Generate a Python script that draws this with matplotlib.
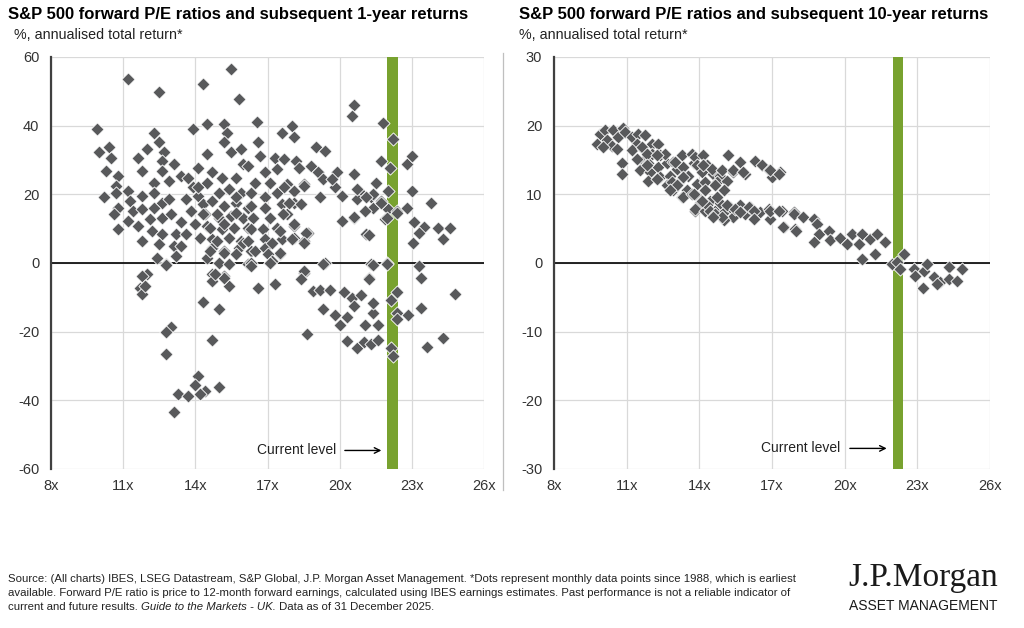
import matplotlib
matplotlib.use("Agg")
import matplotlib.pyplot as plt
from matplotlib.lines import Line2D

plt.rcParams['font.family'] = ['Liberation Sans', 'DejaVu Sans']
plt.rcParams['axes.unicode_minus'] = False

# forward P/E vs subsequent 1-year return (% p.a.)
pe_1y = [11.2, 12.5, 14.3, 15.5, 15.8, 20.6,
         9.9, 10.0, 10.4, 10.5, 10.3, 10.8, 10.7, 10.2, 10.7, 11.2, 10.8, 11.3, 10.6, 11.4, 10.8, 11.2,
         11.6, 12.0, 12.3, 12.5, 12.7, 12.6, 13.1, 11.8, 12.6, 12.3, 12.9, 13.4, 11.8, 12.3, 12.6, 12.9,
         11.8, 12.3, 12.1, 12.6, 13.0, 11.6, 12.2, 12.6, 13.2, 11.8, 12.5, 13.1, 12.4, 12.8, 13.2, 12.0,
         13.9, 14.5, 15.2, 15.3, 15.2, 14.5, 15.5, 15.9, 16.0, 14.1, 14.7, 15.1, 15.7, 13.7, 13.9, 14.5,
         15.0, 15.4, 15.9, 13.6, 14.1, 14.3, 14.7, 15.2, 15.7, 16.2, 13.8, 14.4, 15.0, 15.5, 16.0, 13.4,
         14.0, 14.5, 15.1, 15.6, 16.2, 13.6, 14.2, 14.7, 15.4, 15.9, 14.7, 15.2, 15.8, 16.3, 14.5, 15.0,
         15.4, 16.2, 14.7, 15.2,
         13.4, 14.1, 15.7, 15.2, 15.7, 14.9, 14.6, 16.0, 14.9, 15.2, 15.7, 14.3, 14.6, 13.8,
         16.55, 17.6, 18.0, 18.1, 20.5, 21.8, 22.2, 16.6, 19.0, 19.4, 16.7, 17.3, 17.7, 18.2, 18.3, 21.7,
         22.1, 22.8, 23.0, 16.2, 16.9, 17.4, 18.8, 19.1, 19.9, 20.6, 16.5, 17.1, 17.8, 18.5, 19.3, 19.8,
         20.8, 21.5, 22.0, 23.0, 16.3, 16.9, 17.4, 18.1, 19.2, 20.1, 20.7, 21.3, 21.7, 16.3, 16.9, 17.6,
         18.1, 21.4, 22.0, 22.4, 22.8, 16.4, 17.1, 17.8, 20.1, 20.6, 21.9, 16.3, 16.8, 17.4, 18.1, 18.7,
         21.1, 16.2, 16.9, 17.6, 18.1, 18.5, 16.5, 16.9, 17.5, 16.3, 17.1, 19.4, 21.3, 21.95, 18.5, 21.2,
         19.7, 20.7, 21.4, 21.1, 21.7, 22.4, 21.05, 21.95, 20.6, 21.2, 17.7, 18.5, 17.9, 18.4, 17.65, 18.1,
         18.6, 17.5, 17.2, 17.5, 18.0, 18.5, 17.0, 17.2,
         23.8, 23.1, 23.5, 23.3, 24.1, 24.6, 24.3, 23.05, 23.3,
         11.8, 11.7, 11.8, 11.9, 12.8, 14.7, 15.4, 15.2, 14.8, 14.3, 15.0, 13.0, 12.8, 12.8, 14.7, 14.1,
         14.0, 14.4, 13.3, 13.7, 14.2, 15.0, 13.1, 16.6, 17.3, 16.3, 17.1, 18.5, 18.4, 19.3, 18.9, 19.2,
         19.6, 20.2, 19.3, 19.8, 18.65, 20.3, 20.5, 20.9, 20.6, 20.0, 20.3, 20.7, 21.0, 21.3, 21.6, 21.05,
         21.6, 21.4, 21.4, 21.2, 21.4, 21.95, 22.15, 22.4, 22.4, 22.4, 22.85, 22.15, 22.2, 23.4, 23.4,
         23.65, 24.3, 24.8]
ret_1y = [53.5, 49.7, 52.2, 56.4, 47.8, 46.1,
          39.0, 32.2, 33.7, 30.7, 26.9, 25.4, 22.5, 19.1, 20.5, 21.0, 16.1, 18.1, 14.2, 15.2, 9.8, 12.3,
          30.7, 33.2, 38.0, 35.1, 32.2, 29.8, 28.8, 26.9, 26.9, 23.4, 23.9, 25.4, 19.6, 20.5, 17.6, 18.6,
          15.7, 16.1, 12.8, 13.2, 14.2, 10.8, 9.3, 8.4, 8.4, 6.4, 5.5, 5.0, 1.5, -0.4, 2.0, -3.3,
          39.0, 40.5, 40.5, 38.0, 35.1, 31.7, 32.2, 33.2, 28.8, 27.8, 26.4, 24.9, 24.9, 24.9, 22.0, 23.4,
          20.5, 21.5, 20.5, 18.6, 19.6, 17.1, 18.1, 16.6, 17.6, 16.1, 15.2, 14.2, 13.2, 13.7, 13.2, 11.8,
          11.3, 10.8, 9.8, 10.3, 10.3, 8.4, 7.4, 6.9, 7.4, 6.4, 4.5, 3.5, 4.5, 3.5, 1.5, 0.1,
          -0.4, -0.4, -3.3, -3.8,
          5.0, 22.0, 14.7, 11.3, 19.1, 14.2, 10.3, 5.9, 6.4, 3.0, 2.5, 14.2, 3.5, 15.2,
          41.0, 38.0, 40.0, 36.6, 42.9, 40.8, 36.1, 35.1, 33.7, 32.5, 31.2, 30.7, 30.3, 29.8, 27.8, 29.8,
          27.8, 28.8, 31.2, 28.3, 26.4, 27.4, 28.3, 26.4, 26.4, 25.9, 23.4, 23.4, 23.0, 23.0, 24.4, 22.0,
          21.0, 23.4, 21.0, 21.0, 20.5, 19.1, 20.5, 21.0, 19.1, 19.6, 18.6, 19.1, 18.1, 16.6, 16.1, 17.1,
          17.6, 16.1, 15.7, 15.2, 16.1, 13.2, 13.2, 14.2, 12.3, 13.2, 12.8, 9.8, 9.8, 10.3, 10.8, 8.8,
          8.4, 6.4, 6.9, 6.9, 7.4, 6.4, 3.5, 4.5, 2.5, 0.1, 0.1, 0.1, -0.4, 0.1, -2.8, -4.3,
          24.4, 21.5, 20.1, 19.1, 17.6, 14.7, 15.2, 13.2, 13.4, 8.2, 22.0, 22.5, 17.6, 17.1, 14.2, 11.3,
          8.8, 9.3, 5.9, 3.0, 6.9, 5.9, 2.5, 0.6,
          17.6, 11.8, 10.5, 8.8, 10.3, 10.3, 6.9, 5.9, -0.9,
          -3.8, -7.2, -9.1, -6.7, -0.6, -5.1, -6.7, -4.3, -3.3, -11.3, -13.3, -18.6, -20.1, -26.5, -22.3, -32.8,
          -35.4, -37.2, -38.3, -38.8, -38.3, -36.2, -43.5, -7.2, -6.2, -0.9, 0.1, -2.3, -4.8, -0.4, -8.2, -8.0,
          -8.0, -8.4, -13.5, -15.2, -20.6, -15.7, -10.3, -9.4, -12.6, -18.1, -22.8, -24.9, -23.0, -23.7, -22.3, -18.1,
          -18.1, -14.5, -11.6, -4.8, -0.6, -0.2, -10.9, -8.4, -14.5, -16.4, -15.0, -24.9, -27.2, -4.5, -13.1,
          -24.5, -21.8, -9.1]

# forward P/E vs subsequent 10-year return (% p.a.)
pe_10y = [9.9, 10.1, 10.45, 10.86, 9.76, 10.18, 10.38, 10.04, 10.66, 10.93, 11.21, 11.48, 11.76, 11.42,
          11.21, 11.69, 12.04, 12.31, 12.04, 12.38, 10.8, 10.8, 11.69, 11.9, 11.55, 11.97, 11.9, 12.31,
          12.66, 12.38, 12.79, 12.66, 12.93, 13.28, 13.69, 13.07, 13.34, 13.76, 13.55, 13.14, 12.93, 13.28,
          13.48, 13.9, 13.96, 13.83,
          10.59, 11.62, 11.83, 12.59, 12.24, 11.42, 11.83, 12.24, 12.86, 13.07, 13.34, 13.0, 12.79, 13.34, 13.69,
          13.83, 14.17, 13.9, 14.31, 14.1, 14.58, 14.86, 14.24, 14.72, 15.2, 15.69, 15.41, 15.89, 16.31,
          16.58, 16.86, 17.34, 17.0, 13.76, 14.24, 14.03, 14.45, 13.83, 14.24, 14.65, 15.0, 14.86, 15.27,
          15.69, 16.1, 15.89, 16.51, 16.86, 16.93, 17.41, 17.48, 17.89, 17.96, 15.41, 15.0,
          14.52, 14.93, 15.41, 15.82, 16.93, 17.27, 15.14, 15.0, 14.72, 14.31, 14.45, 14.65, 15.14, 15.48,
          15.69, 16.03, 16.24, 16.24, 16.93, 17.27, 17.45, 14.93, 14.58, 14.17, 14.65, 14.1,
          17.9, 18.0, 18.3, 18.72, 18.85, 18.92, 18.72, 19.34, 19.4, 19.82, 20.1, 20.3, 20.72, 20.58, 21.06,
          21.34, 21.27, 21.68, 20.72, 21.95, 22.16, 22.43, 22.3, 22.85, 22.92, 23.26, 23.4, 23.22, 23.67,
          23.95, 24.29, 24.29, 24.64, 24.84, 23.81]
ret_10y = [18.8, 19.3, 19.3, 19.6, 17.4, 17.9, 17.1, 16.9, 18.3, 19.1, 18.3, 18.8, 18.6, 17.4,
           16.4, 16.6, 17.4, 17.4, 15.9, 15.7, 14.5, 13.0, 14.9, 14.5, 13.5, 13.2, 12.0, 14.0,
           14.5, 12.5, 12.7, 11.3, 14.7, 15.7, 15.9, 13.7, 14.0, 14.5, 12.7, 11.8, 10.6, 9.6,
           10.6, 11.5, 9.6, 7.6,
           16.6, 16.9, 15.9, 15.9, 15.7, 15.2, 14.2, 12.3, 11.8, 11.3, 12.5, 14.7, 10.6, 9.6, 10.1,
           15.4, 15.7, 14.2, 14.2, 13.2, 13.0, 12.7, 11.8, 11.8, 15.7, 14.7, 13.2, 13.0, 14.9,
           14.2, 13.5, 13.2, 12.5, 10.1, 10.6, 8.8, 9.1, 7.9, 7.6, 7.6, 7.4, 8.8, 8.1,
           8.4, 8.1, 7.2, 7.4, 7.9, 6.4, 7.6, 5.2, 7.4, 5.0, 6.7, 6.2,
           13.7, 13.5, 13.5, 13.2, 13.5, 13.0, 12.0, 10.6, 9.6, 8.4, 7.6, 7.2, 8.4, 7.9,
           7.4, 8.1, 7.6, 6.4, 7.6, 7.6, 5.3, 6.7, 6.7, 14.2, 11.3, 9.1,
           7.2, 4.7, 6.7, 6.4, 5.7, 4.2, 3.0, 4.7, 3.3, 3.7, 2.8, 4.2, 4.2, 2.8, 3.5,
           4.2, 1.3, 3.0, 0.6, -0.1, 0.1, 1.3, -0.9, -0.9, -1.9, -1.1, -0.1, -3.6, -2.1,
           -2.8, -0.6, -2.3, -2.6, -0.9, -3.1]

current_pe = 22.2
x_ticks = [8, 11, 14, 17, 20, 23, 26]
x_labels = [f'{t}x' for t in x_ticks]
y_ticks_1y = [-60, -40, -20, 0, 20, 40, 60]
y_ticks_10y = [-30, -20, -10, 0, 10, 20, 30]

titles = ['S&P 500 forward P/E ratios and subsequent 1-year returns',
          'S&P 500 forward P/E ratios and subsequent 10-year returns']
subtitle = '%, annualised total return*'

dot_col = '#58595b'
green = '#78a22f'

fig = plt.figure(figsize=(10.24, 6.28), dpi=100)
ax1 = fig.add_axes([51/1024, 1-469/628, 433/1024, 412/628])
ax2 = fig.add_axes([554/1024, 1-469/628, 436/1024, 412/628])


def style(ax, pe, ret, yticks, label_y):
    ax.set_xlim(8, 26)
    ax.set_ylim(yticks[0], yticks[-1])
    ax.set_xticks(x_ticks)
    ax.set_xticklabels(x_labels)
    ax.set_yticks(yticks)
    ax.set_yticklabels([str(t) for t in yticks])
    ax.grid(True, color='#d9d9d9', lw=0.9, zorder=0)
    ax.set_axisbelow(True)
    for s in ['top', 'right', 'bottom']:
        ax.spines[s].set_visible(False)
    ax.spines['left'].set_color('#404040')
    ax.spines['left'].set_linewidth(1.6)
    ax.tick_params(length=0, labelsize=10.5, colors='#333333')
    ax.tick_params(axis='x', pad=7)
    ax.tick_params(axis='y', pad=8.5)
    ax.axhline(0, color='black', lw=1.2, zorder=2)
    ax.axvspan(current_pe - 0.22, current_pe + 0.22, color=green, lw=0, zorder=3)
    ax.scatter(pe, ret, marker='D', s=45, color=dot_col, edgecolors='white',
               linewidths=0.6, zorder=4)
    ax.text(16.55, label_y, 'Current level', fontsize=10, color='#222222',
            va='center', ha='left', zorder=5)
    ax.annotate('', xy=(21.85, label_y), xytext=(20.1, label_y),
                arrowprops=dict(arrowstyle='->', color='black', lw=1.0), zorder=5)


style(ax1, pe_1y, ret_1y, y_ticks_1y, -54.6)
style(ax2, pe_10y, ret_10y, y_ticks_10y, -27.0)

fig.text(8/1024, 1-15/628, titles[0], fontsize=12, fontweight='bold', va='center', ha='left')
fig.text(519/1024, 1-15/628, titles[1], fontsize=12, fontweight='bold', va='center', ha='left')
fig.text(14/1024, 1-35/628, subtitle, fontsize=10.3, va='center', ha='left', color='#222222')
fig.text(519/1024, 1-35/628, subtitle, fontsize=10.3, va='center', ha='left', color='#222222')

fig.add_artist(Line2D([503/1024, 503/1024], [1-53/628, 1-490/628], color='#bfbfbf', lw=0.9))

fs = 8.2
fig.text(8/1024, 1-579/628,
         'Source: (All charts) IBES, LSEG Datastream, S&P Global, J.P. Morgan Asset Management. '
         '*Dots represent monthly data points since 1988, which is earliest',
         fontsize=fs, va='center', ha='left', color='#222222')
fig.text(8/1024, 1-593/628,
         'available. Forward P/E ratio is price to 12-month forward earnings, calculated using IBES '
         'earnings estimates. Past performance is not a reliable indicator of',
         fontsize=fs, va='center', ha='left', color='#222222')
t1 = fig.text(8/1024, 1-607/628, 'current and future results. ', fontsize=fs, va='center',
              ha='left', color='#222222')
fig.canvas.draw()
r = fig.canvas.get_renderer()
bb = t1.get_window_extent(r)
t2 = fig.text(bb.x1/1024, 1-607/628, 'Guide to the Markets - UK.', fontsize=fs, va='center',
              ha='left', style='italic', color='#222222')
bb2 = t2.get_window_extent(r)
fig.text(bb2.x1/1024, 1-607/628, ' Data as of 31 December 2025.', fontsize=fs, va='center',
         ha='left', color='#222222')

fig.text(923/1024, 1-578/628, 'J.P.Morgan', family=['Liberation Serif', 'DejaVu Serif'],
         fontsize=24, va='center', ha='center', color='#1a1a1a')
fig.text(923/1024, 1-606/628, 'ASSET MANAGEMENT', family=['Liberation Sans Narrow', 'Liberation Sans'],
         fontsize=10, va='center', ha='center', color='#1a1a1a')

fig.savefig('out.png', dpi=100)
